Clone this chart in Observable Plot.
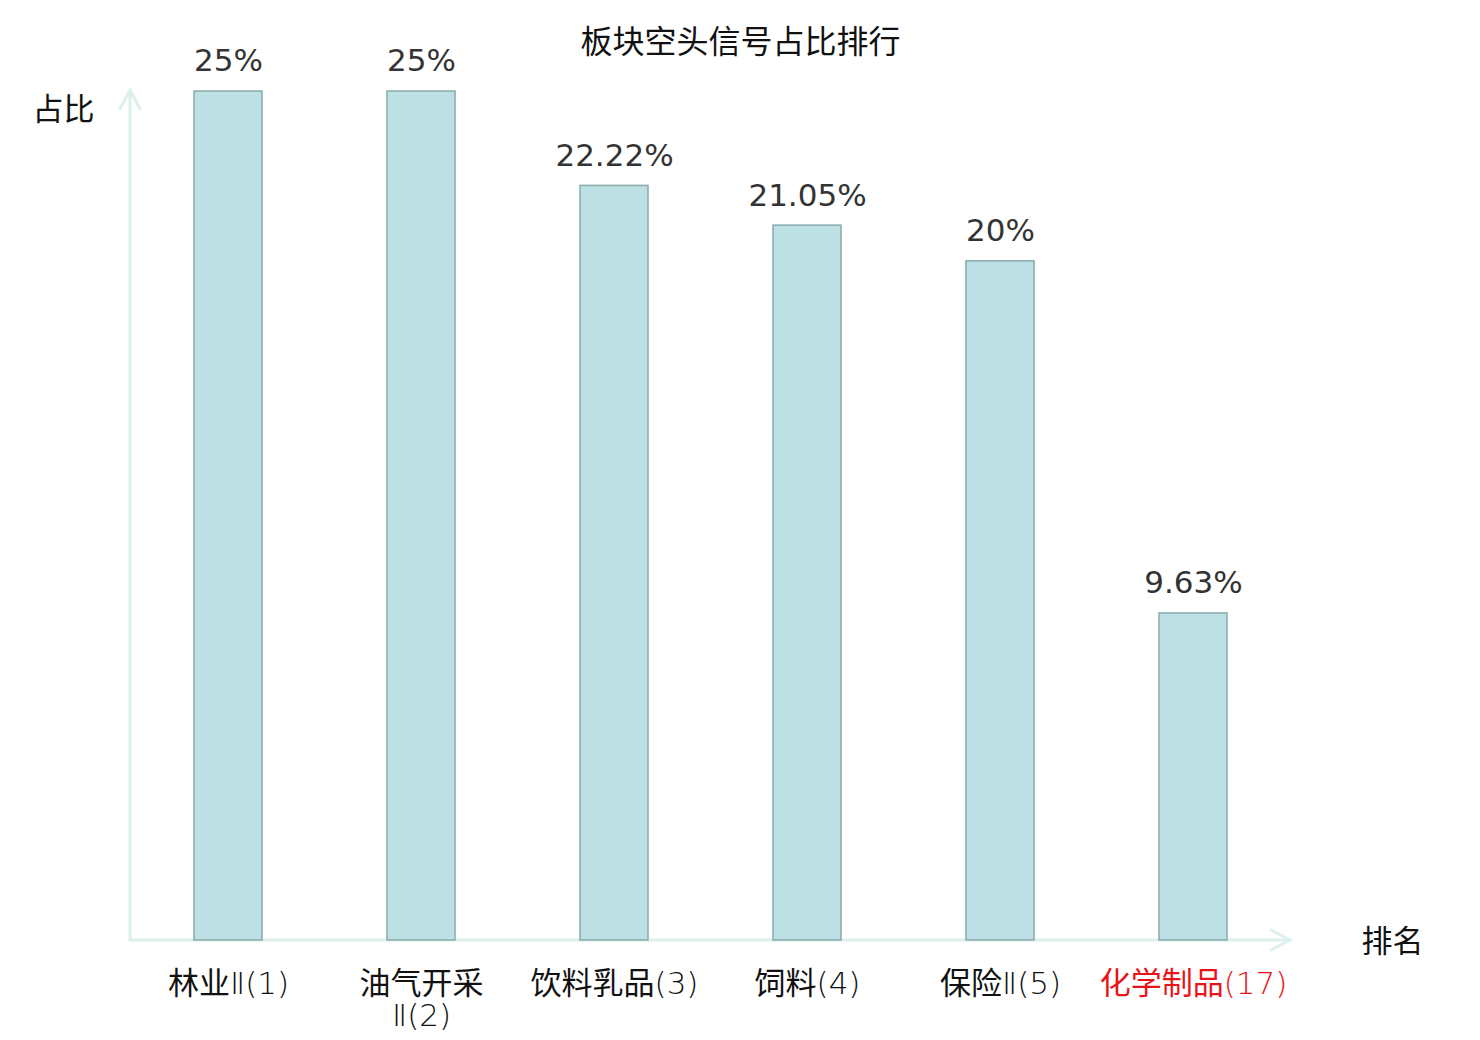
<!DOCTYPE html>
<html>
<head>
<meta charset="utf-8">
<script src="https://cdn.jsdelivr.net/npm/d3@7"></script>
<script src="https://cdn.jsdelivr.net/npm/@observablehq/plot@0.6"></script>
<style>
  html, body { margin: 0; padding: 0; background: #fff; }
  #chart svg { display: block; }
</style>
</head>
<body>
<div id="chart"></div>
<script>
const categories = ["林业Ⅱ", "油气开采Ⅱ", "饮料乳品", "饲料", "保险Ⅱ", "化学制品"];
const ranks = [1, 2, 3, 4, 5, 17];
const values = [25, 25, 22.22, 21.05, 20, 9.63];
const valueLabels = ["25%", "25%", "22.22%", "21.05%", "20%", "9.63%"];
const tickLabels = ["林业Ⅱ(1)", "油气开采\nⅡ(2)", "饮料乳品(3)", "饲料(4)", "保险Ⅱ(5)", "化学制品(17)"];
const highlighted = [false, false, false, false, false, true];
const titleText = "板块空头信号占比排行";
const yAxisLabel = "占比";
const xAxisLabel = "排名";

const data = categories.map((c, i) => ({
  cat: c, rank: ranks[i], value: values[i], vlabel: valueLabels[i],
  tick: tickLabels[i], hl: highlighted[i]
}));

const CJK = "'Noto Sans CJK SC', sans-serif";
const TICKFONT = "'DejaVu Sans ExtraLight', 'DejaVu Sans Light', 'Noto Sans CJK SC', sans-serif";

const axesMark = (index, scales, vals, dims) => {
  const g = d3.create("svg:g")
    .attr("stroke", "#dcf0ee").attr("stroke-width", 3).attr("fill", "none")
    .attr("stroke-linecap", "round");
  const x0 = dims.marginLeft, y0 = dims.height - dims.marginBottom;
  const x1 = dims.width - dims.marginRight, yt = 90;
  g.append("path").attr("d", `M${x0},${y0}V${yt}M${x0 - 10},${yt + 19}L${x0},${yt}L${x0 + 10},${yt + 19}`);
  g.append("path").attr("d", `M${x0},${y0}H${x1}M${x1 - 19},${y0 - 10}L${x1},${y0}L${x1 - 19},${y0 + 10}`);
  return g.node();
};

const chart = Plot.plot({
  width: 1480,
  height: 1040,
  marginLeft: 130,
  marginRight: 190,
  marginTop: 91,
  marginBottom: 100,
  style: { fontFamily: CJK, background: "#fff" },
  x: { domain: categories, paddingInner: 0.648, paddingOuter: 0.324, axis: null },
  y: { domain: [0, 25], axis: null },
  marks: [
    axesMark,
    Plot.barY(data, { x: "cat", y: "value", fill: "#bce0e3", stroke: "#88aaab", strokeWidth: 1.5 }),
    Plot.text(data, { x: "cat", y: "value", text: "vlabel", dy: -30, fill: "#333", fontSize: 31, fontFamily: "'DejaVu Sans', sans-serif" }),
    Plot.text(data, { x: "cat", text: "tick", frameAnchor: "bottom", lineAnchor: "top", dy: 30, lineHeight: 1.05,
      fill: d => d.hl ? "#e8141a" : "#111", fontSize: 31, fontFamily: TICKFONT }),
    Plot.text([titleText], { frameAnchor: "top", textAnchor: "middle", lineAnchor: "middle", dx: 30, dy: -49, fill: "#111", fontSize: 32, fontFamily: CJK }),
    Plot.text([yAxisLabel], { frameAnchor: "top-left", textAnchor: "middle", lineAnchor: "middle", dx: -67, dy: 19, fill: "#111", fontSize: 31, fontFamily: CJK }),
    Plot.text([xAxisLabel], { frameAnchor: "bottom-right", textAnchor: "middle", lineAnchor: "middle", dx: 102, dy: 2, fill: "#111", fontSize: 31, fontFamily: CJK })
  ]
});
document.getElementById("chart").append(chart);
</script>
</body>
</html>
